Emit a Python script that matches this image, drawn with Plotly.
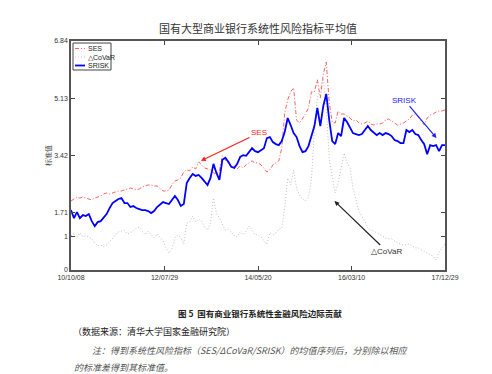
import pandas as pd
import plotly.graph_objects as go

# ---- data ----
start_date = "2010-10-08"
end_date = "2017-12-29"
n_points = 127
dates = pd.date_range(start_date, end_date, periods=n_points)

ses = [2.06, 2.12, 2.18, 2.15, 2.18, 2.15, 2.12, 2.09, 2.15, 2.18,
       2.21, 2.27, 2.30, 2.27, 2.30, 2.33, 2.36, 2.36, 2.39, 2.42,
       2.45, 2.42, 2.39, 2.42, 2.48, 2.51, 2.54, 2.54, 2.51, 2.51,
       2.42, 2.36, 2.36, 2.39, 2.54, 2.66, 2.69, 2.75, 2.93, 2.99,
       2.96, 3.08, 3.02, 3.23, 3.14, 3.05, 3.02, 2.99, 2.90, 2.87,
       2.96, 3.41, 3.29, 3.17, 3.08, 3.02, 3.02, 3.11, 3.05, 3.14,
       3.20, 3.26, 3.20, 3.20, 3.14, 3.05, 2.93, 2.99, 3.14, 3.20,
       3.26, 3.64, 4.69, 5.08, 5.32, 5.44, 4.48, 4.39, 4.51, 4.66,
       4.84, 5.32, 5.32, 5.68, 5.14, 5.85, 6.21, 4.99, 4.42, 4.39,
       4.75, 4.66, 4.66, 4.60, 4.54, 4.45, 4.48, 4.39, 4.36, 4.39,
       4.45, 4.36, 4.33, 4.36, 4.36, 4.39, 4.48, 4.51, 4.45, 4.39,
       4.33, 4.36, 4.39, 4.45, 4.51, 4.63, 4.66, 4.57, 4.45, 4.33,
       4.54, 4.63, 4.66, 4.72, 4.75, 4.75, 4.78]

covar = [1.02, 1.08, 0.96, 1.11, 0.99, 1.02, 0.99, 0.93, 0.81, 0.72,
         0.75, 0.69, 0.75, 0.84, 0.96, 1.05, 1.14, 1.16, 1.19, 1.08,
         1.11, 1.16, 1.25, 1.28, 1.16, 1.05, 1.16, 1.05, 0.96, 1.08,
         0.99, 0.87, 0.66, 0.51, 0.63, 0.96, 1.05, 0.96, 0.78, 1.40,
         1.43, 1.61, 1.43, 1.52, 1.46, 1.28, 1.19, 1.40, 2.15, 1.70,
         1.55, 1.37, 1.19, 1.22, 1.14, 1.02, 0.99, 1.14, 1.05, 1.16,
         1.31, 1.19, 1.05, 1.05, 0.99, 0.87, 0.78, 1.11, 1.05, 1.11,
         1.22, 1.25, 1.85, 2.75, 2.54, 2.99, 2.45, 2.24, 2.12, 2.06,
         2.18, 2.69, 4.24, 5.14, 5.44, 5.73, 4.84, 3.35, 2.81, 2.30,
         2.60, 3.11, 3.49, 3.20, 3.05, 2.45, 2.09, 1.76, 1.61, 1.46,
         1.25, 1.19, 1.16, 1.11, 1.05, 1.02, 0.96, 0.93, 0.93, 0.87,
         0.81, 0.78, 0.75, 0.75, 0.78, 0.72, 0.66, 0.66, 0.60, 0.57,
         0.51, 0.45, 0.42, 0.30, 0.54, 0.66, 0.78]

srisk = [1.79, 1.55, 1.73, 1.55, 1.64, 1.61, 1.67, 1.46, 1.31, 1.43,
         1.46, 1.55, 1.67, 1.85, 2.00, 2.06, 2.12, 2.15, 2.00, 2.00,
         1.88, 1.91, 1.85, 1.82, 1.79, 1.79, 1.76, 1.70, 1.76, 1.88,
         1.97, 2.03, 2.00, 1.97, 2.09, 2.21, 2.09, 1.91, 1.97, 2.60,
         2.75, 2.87, 2.81, 2.84, 2.75, 2.63, 2.54, 2.75, 3.17, 2.90,
         2.69, 3.29, 3.35, 3.23, 3.08, 3.05, 3.17, 3.38, 3.43, 3.41,
         3.52, 3.64, 3.55, 3.52, 3.58, 3.64, 3.94, 3.97, 3.82, 3.76,
         3.73, 3.85, 4.12, 4.54, 4.33, 4.09, 3.97, 3.70, 3.52, 3.55,
         3.70, 4.03, 4.30, 4.84, 4.30, 4.90, 5.26, 4.48, 3.85, 3.76,
         4.09, 4.00, 4.54, 4.42, 4.24, 4.09, 4.06, 4.03, 4.06, 4.18,
         4.30, 4.18, 4.09, 4.03, 4.09, 4.03, 4.09, 4.06, 4.00, 3.88,
         3.85, 3.79, 3.79, 4.18, 4.12, 4.18, 4.06, 4.03, 3.88, 3.76,
         3.46, 3.73, 3.70, 3.73, 3.55, 3.73, 3.73]

y_ticks = [0, 1, 1.71, 3.42, 5.13, 6.84]
y_tick_labels = ["0", "1", "1.71", "3.42", "5.13", "6.84"]
x_ticks = ["2010-10-08", "2012-07-29", "2014-05-20", "2016-03-10", "2017-12-29"]
x_tick_labels = ["10/10/08", "12/07/29", "14/05/20", "16/03/10", "17/12/29"]

series_names = ["SES", "△CoVaR", "SRISK"]

title_text = "国有大型商业银行系统性风险指标平均值"
ylabel_text = "标准值"
caption_text = "图 5  国有商业银行系统性金融风险边际贡献"
source_text = "（数据来源：清华大学国家金融研究院）"
note_line1 = "注：得到系统性风险指标（SES/ΔCoVaR/SRISK）的均值序列后，分别除以相应"
note_line2 = "的标准差得到其标准值。"

FONT = "Liberation Sans, Arial, sans-serif"
CJK = "Noto Sans CJK SC"

colors = ["#ff5050", "#b8b8b8", "#0000ff"]
widths = [0.9, 0.9, 1.8]
dashes = ["4px,2px,1px,2px", "1px,2px", "solid"]

fig = go.Figure()
for name, vals, c, w, d in zip(series_names, [ses, covar, srisk], colors, widths, dashes):
    fig.add_trace(go.Scatter(x=dates, y=vals, name=name, mode="lines",
                             line=dict(color=c, width=w, dash=d)))

W, H = 492, 374
L, R, T, B = 63, 55, 33, 112
pw, ph = W - L - R, H - T - B

def px(xp):
    return (xp - L) / pw

def py(yp):
    return (H - B - yp) / ph

fig.update_layout(
    width=W, height=H,
    margin=dict(l=L, r=R, t=T, b=B),
    paper_bgcolor="white", plot_bgcolor="white",
    showlegend=False,
    xaxis=dict(type="date", range=[start_date, end_date],
               tickvals=x_ticks, ticktext=x_tick_labels,
               ticks="inside", ticklen=4, tickcolor="#444",
               showline=True, linecolor="#555", linewidth=1.5, mirror="ticks",
               showgrid=False, zeroline=False,
               tickfont=dict(family=FONT, size=7, color="#333")),
    yaxis=dict(range=[0, 6.84], tickvals=y_ticks, ticktext=y_tick_labels,
               ticks="inside", ticklen=4, tickcolor="#444",
               showline=True, linecolor="#555", linewidth=1.5, mirror="ticks",
               showgrid=False, zeroline=False,
               tickfont=dict(family=FONT, size=7, color="#333")),
)

# manual compact legend (MATLAB style)
shapes = [dict(type="rect", xref="paper", yref="paper",
               x0=px(65), x1=px(103), y0=py(62), y1=py(35),
               line=dict(color="#444", width=1), fillcolor="white", layer="above")]
ann = []
for k, (name, c, w, d) in enumerate(zip(series_names, colors, widths, dashes)):
    yy = py(40.5 + 8.5 * k)
    shapes.append(dict(type="line", xref="paper", yref="paper",
                       x0=px(67), x1=px(77), y0=yy, y1=yy,
                       line=dict(color=c, width=w, dash=d),
                       layer="above"))
    ann.append(dict(xref="paper", yref="paper", x=px(78), y=yy, text=name,
                    showarrow=False, xanchor="left", yanchor="middle",
                    font=dict(family=FONT, size=7, color="#222")))

ann.append(dict(xref="paper", yref="paper", x=px(250), y=py(20), text=title_text,
                showarrow=False, font=dict(family=CJK, size=11, color="#333"),
                xanchor="center", yanchor="middle"))
ann.append(dict(xref="paper", yref="paper", x=px(40), y=py(148), text=ylabel_text,
                showarrow=False, textangle=-90, font=dict(family=CJK, size=7, color="#444"),
                xanchor="center", yanchor="middle"))
# arrows
ann.append(dict(x="2013-04-12", y=3.26, xref="x", yref="y", text="SES",
                showarrow=True, arrowhead=2, arrowsize=0.8, arrowwidth=1.2,
                arrowcolor="#ff2020", ax=58, ay=-28,
                font=dict(family=FONT, size=8, color="#ff2020")))
ann.append(dict(x="2017-10-30", y=3.94, xref="x", yref="y", text="SRISK",
                showarrow=True, arrowhead=2, arrowsize=0.8, arrowwidth=1.2,
                arrowcolor="#2020ff", ax=-32, ay=-38,
                font=dict(family=FONT, size=8, color="#2020ff")))
ann.append(dict(x="2015-11-10", y=2.06, xref="x", yref="y", text="△CoVaR",
                showarrow=True, arrowhead=2, arrowsize=0.8, arrowwidth=1.2,
                arrowcolor="#222", ax=52, ay=50,
                font=dict(family=FONT, size=8, color="#333")))
# captions below
ann.append(dict(xref="paper", yref="paper", x=px(252), y=py(305), text="<b>" + caption_text + "</b>",
                showarrow=False, font=dict(family=CJK, size=8.5, color="#222"),
                xanchor="center", yanchor="middle"))
ann.append(dict(xref="paper", yref="paper", x=px(63), y=py(323), text=source_text,
                showarrow=False, font=dict(family=CJK, size=9, color="#222"),
                xanchor="left", yanchor="middle"))
ann.append(dict(xref="paper", yref="paper", x=px(82), y=py(342), text="<i>" + note_line1 + "</i>",
                showarrow=False, font=dict(family=CJK, size=9, color="#555"),
                xanchor="left", yanchor="middle"))
ann.append(dict(xref="paper", yref="paper", x=px(64), y=py(359), text="<i>" + note_line2 + "</i>",
                showarrow=False, font=dict(family=CJK, size=9, color="#555"),
                xanchor="left", yanchor="middle"))
fig.update_layout(annotations=ann, shapes=shapes)

fig.write_html("out.html")
